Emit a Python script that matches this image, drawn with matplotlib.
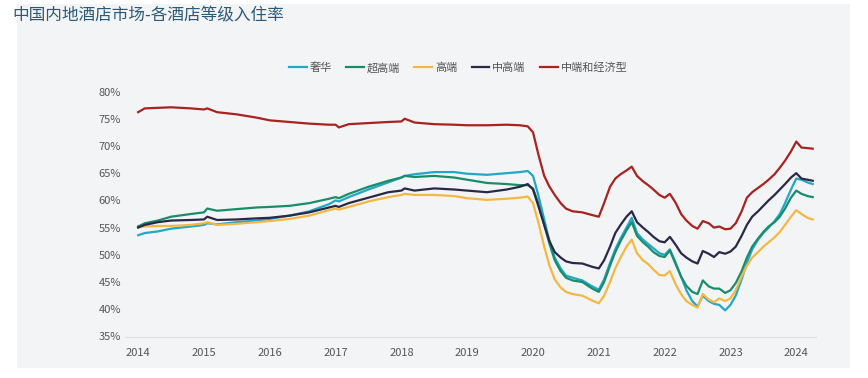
import matplotlib
matplotlib.use("Agg")
import matplotlib.pyplot as plt
from matplotlib.patches import Rectangle
from matplotlib.ticker import FuncFormatter

plt.rcParams['font.family'] = ['Noto Sans CJK SC', 'DejaVu Sans']

# ---- data ----
years = [2014.0, 2014.1, 2014.3, 2014.5, 2014.8, 2015.0, 2015.05, 2015.2, 2015.5, 2015.8,
         2016.0, 2016.3, 2016.6, 2016.9, 2017.0, 2017.05, 2017.2, 2017.5, 2017.8, 2018.0,
         2018.05, 2018.2, 2018.5, 2018.8, 2019.0, 2019.3, 2019.6, 2019.8, 2019.92, 2020.0,
         2020.08, 2020.17, 2020.25, 2020.33, 2020.42, 2020.5, 2020.6, 2020.75, 2020.9, 2021.0,
         2021.08, 2021.17, 2021.25, 2021.33, 2021.42, 2021.5, 2021.58, 2021.67, 2021.75, 2021.83,
         2021.92, 2022.0, 2022.08, 2022.17, 2022.25, 2022.33, 2022.42, 2022.5, 2022.58, 2022.67,
         2022.75, 2022.83, 2022.92, 2023.0, 2023.08, 2023.17, 2023.25, 2023.33, 2023.42, 2023.5,
         2023.58, 2023.67, 2023.75, 2023.83, 2023.92, 2024.0, 2024.08, 2024.17, 2024.25]

luxury = [53.6, 54.0, 54.3, 54.8, 55.2, 55.5, 55.8, 55.6, 56.0, 56.3,
          56.6, 57.2, 58.0, 59.3, 60.0, 59.8, 60.6, 62.0, 63.3, 64.2,
          64.5, 64.8, 65.2, 65.2, 64.9, 64.7, 65.0, 65.2, 65.4, 64.5,
          61.0, 56.5, 52.5, 49.5, 47.5, 46.2, 45.8, 45.3, 44.2, 43.6,
          45.5, 48.5, 51.0, 53.0, 55.0, 56.8, 54.0, 52.8, 52.0, 51.2,
          50.3, 50.0, 51.0, 48.5, 46.0, 43.5, 41.5, 40.5, 42.5, 41.5,
          41.0, 40.8, 39.8, 40.8, 42.5, 45.5, 48.5, 51.0, 52.8, 54.0,
          55.0, 56.2, 57.5, 59.5, 62.0, 64.0, 63.8, 63.3, 63.0]

upper_upscale = [55.2, 55.8, 56.3, 57.0, 57.5, 57.8, 58.5, 58.1, 58.4, 58.7,
                 58.8, 59.0, 59.5, 60.3, 60.6, 60.4, 61.2, 62.5, 63.6, 64.2,
                 64.5, 64.3, 64.5, 64.2, 63.8, 63.2, 63.0, 62.8, 62.8, 62.2,
                 59.5, 55.5, 52.0, 49.0, 47.0, 45.8, 45.3, 45.0, 43.8, 43.2,
                 45.0, 48.0, 50.5, 52.5, 54.5, 56.0, 53.5, 52.3, 51.5, 50.5,
                 49.8, 49.6, 50.8, 48.2, 46.0, 44.3, 43.2, 42.8, 45.3, 44.2,
                 43.8, 43.8, 43.0, 43.5, 44.8, 47.0, 49.5, 51.5, 53.0, 54.2,
                 55.2, 56.0, 57.0, 58.5, 60.5, 61.8, 61.2, 60.8, 60.6]

upscale = [55.3, 55.2, 55.3, 55.3, 55.5, 55.8, 56.0, 55.5, 55.7, 56.0,
           56.2, 56.6, 57.2, 58.2, 58.5, 58.3, 58.8, 59.8, 60.6, 61.0,
           61.2, 61.0, 61.0, 60.8, 60.4, 60.1, 60.3, 60.5, 60.7, 59.5,
           56.0, 51.5, 48.0, 45.5, 44.0, 43.2, 42.8, 42.5, 41.6, 41.1,
           42.5, 45.0, 47.5, 49.5, 51.5, 52.8, 50.3, 49.0, 48.3, 47.3,
           46.3, 46.2, 47.0, 44.5, 42.8, 41.5, 40.8, 40.3, 42.8, 41.8,
           41.3, 42.0, 41.5, 42.0, 43.5, 46.0, 48.0, 49.5, 50.5, 51.5,
           52.3, 53.2, 54.2, 55.5, 57.0, 58.2, 57.5, 56.8, 56.5]

upper_midscale = [55.0, 55.5, 56.0, 56.3, 56.4, 56.5, 57.0, 56.4, 56.5, 56.7,
                  56.8, 57.2, 57.8, 58.7, 59.0, 58.8, 59.5, 60.5, 61.5, 61.8,
                  62.2, 61.8, 62.2, 62.0, 61.8, 61.5, 62.0, 62.5, 63.0, 62.0,
                  59.0, 55.5, 52.5, 50.5, 49.5, 48.8, 48.5, 48.4, 47.8, 47.5,
                  49.0, 51.5, 54.0, 55.5, 57.0, 58.0, 56.0, 55.0, 54.2, 53.3,
                  52.5, 52.3, 53.3, 51.8, 50.3, 49.5, 48.8, 48.4, 50.7, 50.2,
                  49.6, 50.5, 50.2, 50.6, 51.5, 53.5, 55.5, 57.0, 58.0, 59.0,
                  60.0, 61.0, 62.0, 63.0, 64.2, 65.0, 64.0, 63.8, 63.6]

midscale_economy = [76.2, 76.9, 77.0, 77.1, 76.9, 76.7, 76.9, 76.2, 75.8, 75.2,
                    74.7, 74.4, 74.1, 73.9, 73.9, 73.4, 74.0, 74.2, 74.4, 74.5,
                    75.0, 74.3, 74.0, 73.9, 73.8, 73.8, 73.9, 73.8, 73.6, 72.5,
                    68.5, 64.5, 62.5, 61.0, 59.5, 58.5, 58.0, 57.8, 57.3, 57.0,
                    59.5, 62.5, 64.0, 64.8, 65.5, 66.2, 64.5, 63.5, 62.8, 62.0,
                    61.0, 60.5, 61.2, 59.5, 57.5, 56.3, 55.3, 54.8, 56.2, 55.8,
                    55.0, 55.2, 54.7, 54.8, 55.8, 58.0, 60.5, 61.5, 62.3, 63.0,
                    63.8, 64.8, 66.0, 67.3, 69.0, 70.8, 69.7, 69.6, 69.5]

series_names = ['奢华', '超高端', '高端', '中高端', '中端和经济型']
series_colors = ['#22a7c9', '#1b8c6a', '#f3b843', '#2a2849', '#a9221f']
x_ticks = list(range(2014, 2025))
y_ticks = [35, 40, 45, 50, 55, 60, 65, 70, 75, 80]
title = '中国内地酒店市场-各酒店等级入住率'

# ---- figure ----
fig = plt.figure(figsize=(8.68, 3.78), dpi=100)
fig.patch.set_facecolor('white')
bg = Rectangle((17 / 868, 1 - 368 / 378), (850 - 17) / 868, (368 - 4) / 378,
               transform=fig.transFigure, facecolor='#f3f4f6', edgecolor='none', zorder=-5)
fig.patches.append(bg)

ax = fig.add_axes([125 / 868, 1 - 336.5 / 378, (816 - 125) / 868, 245 / 378])
ax.set_facecolor('none')
ax.set_zorder(2)

all_series = [luxury, upper_upscale, upscale, upper_midscale, midscale_economy]
order = [0, 2, 1, 3, 4]
lines = {}
for i in order:
    ln, = ax.plot(years, all_series[i], color=series_colors[i], lw=1.6,
                  label=series_names[i], solid_joinstyle='round')
    lines[i] = ln

ax.set_xlim(2013.8, 2024.3)
ax.set_ylim(35, 80)
ax.set_xticks(x_ticks)
ax.set_yticks(y_ticks)
ax.yaxis.set_major_formatter(FuncFormatter(lambda v, p: f'{int(v)}%'))
ax.tick_params(axis='both', length=0, labelsize=8, colors='#555555')
ax.tick_params(axis='x', pad=8)
ax.tick_params(axis='y', pad=3)
for s in ['top', 'right', 'left']:
    ax.spines[s].set_visible(False)
ax.spines['bottom'].set_color('#dcdde0')
ax.spines['bottom'].set_linewidth(0.8)

handles = [lines[i] for i in range(5)]
leg = fig.legend(handles, series_names, loc='center', bbox_to_anchor=(458 / 868, 1 - 68 / 378),
                 ncol=5, frameon=False, fontsize=8, handlelength=1.6, handletextpad=0.25,
                 columnspacing=1.3, labelcolor='#555555')

fig.text(12 / 868, 1 - 16 / 378, title, fontsize=12, color='#2b5a78', ha='left', va='center')

fig.savefig('out.png', dpi=100)
